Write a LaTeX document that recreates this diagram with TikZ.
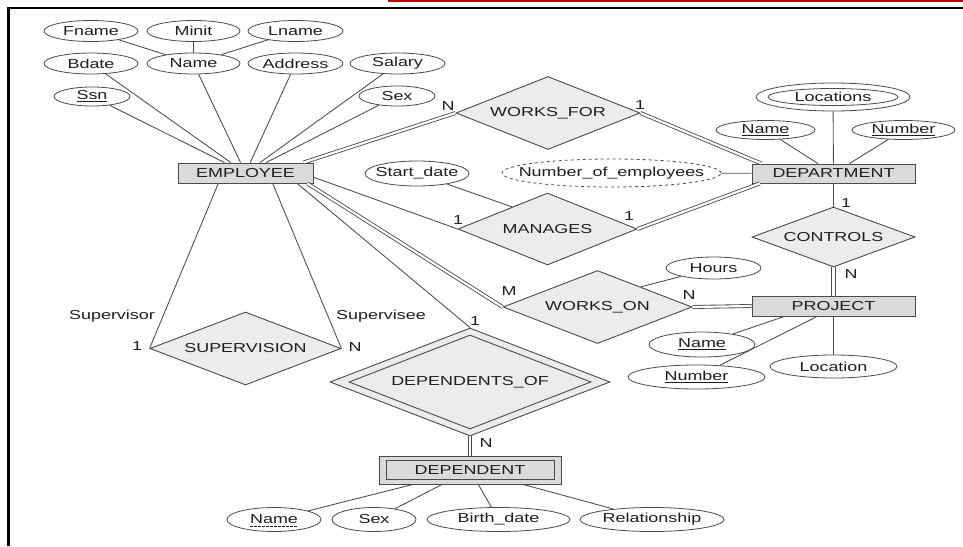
\documentclass[tikz,border=0pt]{standalone}
\usepackage{fontspec}
\usetikzlibrary{shapes.geometric, calc}
\newfontfamily\erfont{Liberation Sans}[FakeStretch=1.38]
\definecolor{edgegray}{HTML}{4A4A4A}
\definecolor{entfill}{HTML}{DADADA}
\definecolor{relfill}{HTML}{ECECEC}
\definecolor{inkgray}{HTML}{1E1E1E}
\definecolor{framered}{HTML}{C00000}
\newcommand{\erfs}{\erfont\fontsize{13}{15}\selectfont}
\newcommand{\keyattr}[1]{\underline{#1}}
\tikzset{
  ent/.style={rectangle, draw=edgegray, line width=0.9pt, fill=entfill,
              inner sep=0pt, text=inkgray, font=\erfs},
  rel/.style={diamond, aspect=2.55, draw=edgegray, line width=0.9pt, fill=relfill,
              inner sep=0pt, text=inkgray, font=\erfs},
  attr/.style={ellipse, draw=edgegray, line width=0.8pt, fill=white,
               inner sep=0pt, minimum height=21, text=inkgray, font=\erfs},
  card/.style={inner sep=0pt, text=inkgray, font=\erfs},
  lnk/.style={draw=edgegray, line width=0.85pt},
  dbl/.style={draw=edgegray, line width=0.85pt, double=white, double distance=2.2pt},
}

\begin{document}
\begin{tikzpicture}[x=1pt, y=-1pt]
  \useasboundingbox (0,0) rectangle (963,546);
  \draw[framered, line width=1.6pt] (388,0.8) -- (963,0.8);
  \draw[black, line width=2.5pt] (8.5,546) -- (8.5,8) -- (963,8);

  % entities
  \node[ent, minimum width=135, minimum height=20] (emp) at (245.5,173) {EMPLOYEE};
  \node[ent, minimum width=163, minimum height=19] (dept) at (833.5,173.5) {DEPARTMENT};
  \node[ent, minimum width=163, minimum height=20] (proj) at (833.5,306) {PROJECT};
  \node[ent, minimum width=182, minimum height=28] (dep) at (470,470) {};
  \node[ent, minimum width=168, minimum height=19] (depin) at (dep) {DEPENDENT};

  % relationships
  \node[rel, minimum width=184, minimum height=73] (wf) at (548,113) {WORKS\_FOR};
  \node[rel, minimum width=179, minimum height=72] (man) at (547.5,229) {MANAGES};
  \node[rel, minimum width=163, minimum height=60] (ctrl) at (833.5,237) {CONTROLS};
  \node[rel, minimum width=189, minimum height=73] (wo) at (597.5,307) {WORKS\_ON};
  \node[rel, minimum width=191, minimum height=73] (sup) at (245.5,348.5) {SUPERVISION};
  \node[rel, minimum width=280, minimum height=108] (dof) at (470,382) {};
  \node[rel, minimum width=242, minimum height=94] (dofin) at (dof) {DEPENDENTS\_OF};

  % attributes of EMPLOYEE
  \node[attr, minimum width=94] (fname) at (91,31) {Fname};
  \node[attr, minimum width=93] (minit) at (193.5,31) {Minit};
  \node[attr, minimum width=95] (lname) at (295.5,31) {Lname};
  \node[attr, minimum width=94] (bdate) at (91,63.5) {Bdate};
  \node[attr, minimum width=93] (ename) at (193.5,63.5) {Name};
  \node[attr, minimum width=95] (addr) at (295.5,63.5) {Address};
  \node[attr, minimum width=95] (salary) at (397.5,63.5) {Salary};
  \node[attr, minimum width=76, minimum height=19] (ssn) at (92,96.5) {\keyattr{Ssn}};
  \node[attr, minimum width=76, minimum height=20] (esex) at (397,96) {Sex};
  \node[attr, minimum width=104, minimum height=25] (sdate) at (417,173.5) {\makebox[0pt]{Start\_date}};

  % attributes of DEPARTMENT
  \node[attr, minimum width=154, minimum height=28] (locs) at (833,97) {};
  \node[attr, minimum width=130, minimum height=17] (locsin) at (locs) {Locations};
  \node[attr, minimum width=99, minimum height=19] (dname) at (765.5,130) {\keyattr{Name}};
  \node[attr, minimum width=103, minimum height=19] (dnum) at (903.5,130) {\keyattr{Number}};
  \node[attr, dashed, minimum width=219, minimum height=28] (noe) at (611.5,173) {\makebox[0pt]{Number\_of\_employees}};

  % attributes of PROJECT and WORKS_ON
  \node[attr, minimum width=95, minimum height=22] (hours) at (713.5,268) {Hours};
  \node[attr, minimum width=106, minimum height=25] (pname) at (702,344.5) {\keyattr{Name}};
  \node[attr, minimum width=137, minimum height=24] (pnum) at (696.5,377) {\keyattr{Number}};
  \node[attr, minimum width=127, minimum height=23] (ploc) at (833.5,366.5) {Location};

  % attributes of DEPENDENT
  \node[attr, minimum width=94, minimum height=24] (kname) at (274,519.5) {Name};
  \draw[inkgray, line width=0.6pt, dash pattern=on 2.5pt off 1.5pt]
    ($(kname.center)+(-24,7)$) -- ($(kname.center)+(24,7)$);
  \node[attr, minimum width=84, minimum height=24] (ksex) at (374,519.5) {Sex};
  \node[attr, minimum width=143, minimum height=24] (kbdate) at (498.5,519.5) {Birth\_date};
  \node[attr, minimum width=144, minimum height=24] (kship) at (652,519.5) {Relationship};

  % connectors
  \foreach \a in {fname,minit,lname} \draw[lnk] (\a) -- (ename);
  \foreach \a in {ssn,bdate,ename,addr,salary,esex} \draw[lnk] (\a) -- (emp);
  \foreach \a in {locs,dname,dnum,noe} \draw[lnk] (\a) -- (dept);
  \foreach \a in {kname,ksex,kbdate,kship} \draw[lnk] (\a) -- (dep);
  \draw[dbl] ($(emp.north west)!0.926!(emp.north east)$) -- (wf.west);
  \draw[dbl] (wf.east) -- ($(dept.north west)!0.06!(dept.north east)$);
  \draw[lnk] ($(emp.north east)!0.7!(emp.south east)$) -- (man.west);
  \draw[dbl] (man.east) -- ($(dept.south west)!0.05!(dept.south east)$);
  \draw[lnk] (sdate) -- (man.148);
  \draw[lnk] (dept.south) -- (ctrl.north);
  \foreach \s in {-1.6,1.6}
    \draw[lnk] ([xshift=\s pt]ctrl.south) -- ([xshift=\s pt]proj.north);
  \draw[dbl] ($(emp.south west)!0.955!(emp.south east)$) -- (wo.west);
  \draw[dbl] (wo.east) -- (proj.west);
  \draw[lnk] (hours) -- (wo.25);
  \draw[lnk] (pname) -- ($(proj.south west)!0.2!(proj.south east)$);
  \draw[lnk] (pnum) -- ($(proj.south west)!0.4!(proj.south east)$);
  \draw[lnk] (ploc) -- (proj);
  \draw[lnk] ($(emp.south west)!0.3!(emp.south east)$) -- (sup.west);
  \draw[lnk] ($(emp.south west)!0.7!(emp.south east)$) -- (sup.east);
  \draw[lnk] ($(emp.south west)!0.88!(emp.south east)$) -- (dof.north);
  \draw[dbl] (dof.south) -- (dep.north);

  % cardinalities and roles
  \node[card] (cWfN) at (448,106) {N};
  \node[card] (cWfOne) at (640,105) {1};
  \node[card] (cManA) at (458,220) {1};
  \node[card] (cManB) at (629,216) {1};
  \node[card] (cCtrlOne) at (846,203) {1};
  \node[card] (cCtrlN) at (851,274) {N};
  \node[card] (cWoM) at (509,291) {M};
  \node[card] (cWoN) at (689,295) {N};
  \node[card] (rSuper) at (112,316) {Supervisor};
  \node[card] (cSupOne) at (137,346) {1};
  \node[card] (rSubord) at (381,316) {Supervisee};
  \node[card] (cSupN) at (355,347) {N};
  \node[card] (cDofOne) at (475,321) {1};
  \node[card] (cDofN) at (486,443) {N};
\end{tikzpicture}
\end{document}
